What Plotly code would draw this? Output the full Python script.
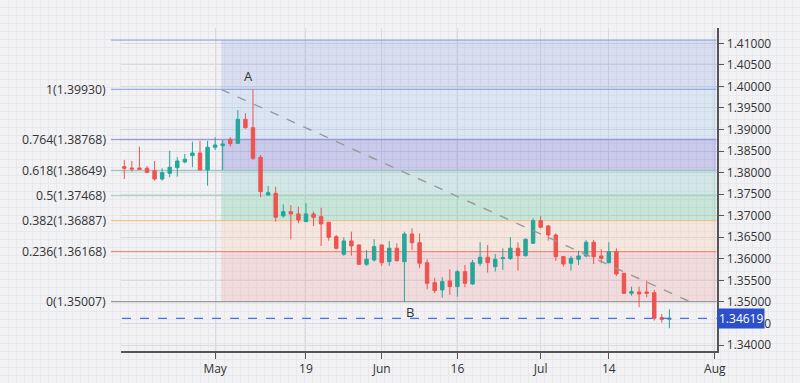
import plotly.graph_objects as go

# ---------------- data ----------------
opens = [1.38138, 1.38107, 1.38107, 1.38100, 1.38045, 1.37852, 1.37984, 1.38114, 1.38247, 1.38393,
         1.38455, 1.38061, 1.38588, 1.38625, 1.38773, 1.38680, 1.39237, 1.39042, 1.38356, 1.37481,
         1.37520, 1.36994, 1.37094, 1.37040, 1.36862, 1.37040, 1.36978, 1.36848, 1.36514, 1.36105,
         1.36414, 1.36321, 1.35873, 1.35973, 1.36321, 1.35934, 1.36244, 1.35934, 1.36576, 1.36374,
         1.35910, 1.35446, 1.35277, 1.35486, 1.35354, 1.35702, 1.35416, 1.35896, 1.36036, 1.35818,
         1.36006, 1.36006, 1.36244, 1.36073, 1.36360, 1.36885, 1.36762, 1.36553, 1.36050, 1.35896,
         1.35989, 1.36066, 1.36384, 1.36066, 1.35910, 1.36166, 1.35664, 1.35200, 1.35231, 1.35231,
         1.35214, 1.34634, 1.34597]
highs = [1.38293, 1.38270, 1.38602, 1.38154, 1.38270, 1.38100, 1.38509, 1.38356, 1.38432, 1.38718,
         1.38734, 1.38734, 1.38820, 1.38757, 1.38820, 1.39453, 1.39376, 1.39930, 1.38409, 1.37690,
         1.37674, 1.37265, 1.37249, 1.37210, 1.37288, 1.37094, 1.37186, 1.36855, 1.36553, 1.36500,
         1.36630, 1.36325, 1.36205, 1.36453, 1.36325, 1.36414, 1.36360, 1.36630, 1.36708, 1.36592,
         1.35989, 1.35562, 1.35572, 1.35757, 1.35741, 1.35857, 1.35973, 1.36384, 1.36321, 1.36112,
         1.36244, 1.36500, 1.36384, 1.36476, 1.36941, 1.36994, 1.36785, 1.36592, 1.36066, 1.36066,
         1.36189, 1.36437, 1.36437, 1.36221, 1.36384, 1.36244, 1.35670, 1.35354, 1.35354, 1.35493,
         1.35277, 1.34720, 1.34829]
lows = [1.37852, 1.38022, 1.38061, 1.37984, 1.37813, 1.37813, 1.37892, 1.37906, 1.38216, 1.38124,
        1.38045, 1.37697, 1.38525, 1.38061, 1.38602, 1.38664, 1.39019, 1.38293, 1.37428, 1.37458,
        1.36862, 1.36954, 1.36453, 1.36824, 1.36855, 1.36762, 1.36298, 1.36421, 1.36221, 1.36073,
        1.36073, 1.35857, 1.35834, 1.35934, 1.35834, 1.35834, 1.35934, 1.35007, 1.36205, 1.35780,
        1.35293, 1.35200, 1.35098, 1.35161, 1.35122, 1.35340, 1.35393, 1.35834, 1.35678, 1.35702,
        1.35741, 1.35973, 1.35725, 1.36050, 1.36344, 1.36708, 1.36421, 1.35950, 1.35818, 1.35725,
        1.35857, 1.36036, 1.35880, 1.35896, 1.35896, 1.35602, 1.35184, 1.35145, 1.34876, 1.35108,
        1.34565, 1.34518, 1.34388]
closes = [1.38100, 1.38084, 1.38077, 1.38008, 1.37852, 1.37998, 1.38124, 1.38270, 1.38309, 1.38455,
          1.38061, 1.38588, 1.38641, 1.38664, 1.38671, 1.39237, 1.39042, 1.38332, 1.37558, 1.37534,
          1.36964, 1.37094, 1.37040, 1.36901, 1.37040, 1.36964, 1.36808, 1.36500, 1.36244, 1.36414,
          1.36298, 1.35873, 1.35989, 1.36282, 1.35910, 1.36244, 1.35957, 1.36576, 1.36374, 1.35896,
          1.35432, 1.35261, 1.35470, 1.35354, 1.35702, 1.35432, 1.35910, 1.36036, 1.35910, 1.35989,
          1.36026, 1.36244, 1.36073, 1.36453, 1.36885, 1.36732, 1.36553, 1.36050, 1.35880, 1.36012,
          1.36066, 1.36384, 1.36050, 1.36012, 1.36166, 1.35648, 1.35200, 1.35238, 1.35184, 1.35200,
          1.34620, 1.34597, 1.34619]

tick_positions = [12, 24, 34, 44, 55, 64, 78]          # bar index of each time label
tick_labels = ["May", "19", "Jun", "16", "Jul", "14", "Aug"]

fib_ratios = ["1", "0.764", "0.618", "0.5", "0.382", "0.236", "0"]
fib_prices = [1.39930, 1.38768, 1.38049, 1.37468, 1.36887, 1.36168, 1.35007]
fib_price_text = ["1.39930", "1.38768", "1.38649", "1.37468", "1.36887", "1.36168", "1.35007"]
fib_top_price = 1.41075

fib_start = (12.8, 1.39930)   # bar index, price
fib_end = (74.7, 1.35007)
point_a = (16.4, 1.39930)
point_b = (37.7, 1.35007)
last_price = 1.34619

# ---------------- styles ----------------
W, H = 800, 383
PL, PR, PT, PB = 120.5, 716.7, 28.0, 351.0   # plot area in px
BG = "#f2f2f5"
UP, DOWN = "#26a69a", "#ef5350"
fib_line_colors = ["#8fb0ea", "#9a9bd8", "#9fc4c2", "#a9d6c0", "#f3c28d", "#f38b7b", "#9b9b9b"]
top_line_color = "#7f9fe3"
zone_colors = [
    "rgba(120,140,220,0.20)",   # above 1
    "rgba(150,190,240,0.25)",   # 1 - 0.764
    "rgba(110,110,210,0.30)",   # 0.764 - 0.618
    "rgba(120,200,190,0.25)",   # 0.618 - 0.5
    "rgba(100,200,150,0.30)",   # 0.5 - 0.382
    "rgba(255,200,160,0.25)",   # 0.382 - 0.236
    "rgba(240,150,150,0.25)",   # 0.236 - 0
]
FONT = "Open Sans"


def px(xp):
    return xp / W


x_idx = list(range(len(opens)))
x_range = [-0.5, 78.25]
# price at pixel rows PB (bottom) and PT (top): 1.41 at y=43.3, 4310 px per unit
y_range = [1.41 - (PB - 43.3) / 4310, 1.41 + (43.3 - PT) / 4310]

fig = go.Figure()

# background fine grid (full page) on axes x / y
fig.add_trace(go.Scatter(x=[None], y=[None], xaxis="x", yaxis="y",
                         showlegend=False, hoverinfo="skip"))

fig.add_trace(go.Candlestick(
    x=x_idx, open=opens, high=highs, low=lows, close=closes,
    xaxis="x2", yaxis="y2",
    increasing=dict(line=dict(color=UP, width=1), fillcolor=UP),
    decreasing=dict(line=dict(color=DOWN, width=1), fillcolor=DOWN),
    whiskerwidth=0, showlegend=False, hoverinfo="skip",
))

shapes = []
annotations = []

# zones
bounds = [fib_top_price] + fib_prices
for i, col in enumerate(zone_colors):
    shapes.append(dict(type="rect", xref="x2", yref="y2",
                       x0=fib_start[0], x1=x_range[1],
                       y0=bounds[i + 1], y1=bounds[i],
                       fillcolor=col, line=dict(width=0), layer="between"))


def level_line(p, color, width):
    # inside the plot area (under the candles)
    shapes.append(dict(type="line", xref="x2", yref="y2",
                       x0=x_range[0], x1=x_range[1], y0=p, y1=p,
                       line=dict(color=color, width=width), layer="between"))
    # short stub that sticks out to the left of the plot area
    shapes.append(dict(type="line", xref="paper", yref="y2",
                       x0=px(111), x1=px(PL + 0.5), y0=p, y1=p,
                       line=dict(color=color, width=width), layer="above"))


level_line(fib_top_price, top_line_color, 1)
for r, p, t, c in zip(fib_ratios, fib_prices, fib_price_text, fib_line_colors):
    level_line(p, c, 1.3)
    annotations.append(dict(xref="paper", yref="y2", x=px(108), y=p,
                            xanchor="right", yanchor="middle", showarrow=False,
                            text=f"{r}({t})",
                            font=dict(family=FONT, size=12.3, color="#333333")))

# trend (dashed) line
shapes.append(dict(type="line", xref="x2", yref="y2",
                   x0=fib_start[0], y0=fib_start[1], x1=fib_end[0], y1=fib_end[1],
                   line=dict(color="#9a9a9a", width=1.4, dash="dash"), layer="above"))

# last price line
shapes.append(dict(type="line", xref="paper", yref="y2",
                   x0=px(122), x1=px(PR), y0=last_price, y1=last_price,
                   line=dict(color="#4f6fe6", width=1.2, dash="dash"), layer="above"))

annotations.append(dict(xref="paper", yref="y2", x=px(PR), y=last_price,
                        xanchor="left", yanchor="middle", showarrow=False,
                        text=f"{last_price:.5f}", bgcolor="#2d4fc9", borderpad=1,
                        font=dict(family=FONT, size=12, color="white")))

annotations.append(dict(xref="x2", yref="y2", x=point_a[0], y=point_a[1],
                        yshift=13, showarrow=False, text="A",
                        font=dict(family=FONT, size=13, color="#333333")))
annotations.append(dict(xref="x2", yref="y2", x=point_b[0], y=point_b[1],
                        yshift=-10, showarrow=False, text="B",
                        font=dict(family=FONT, size=13, color="#333333")))

fig.update_layout(
    template="none",
    width=W, height=H,
    margin=dict(l=0, r=0, t=0, b=0, pad=0),
    paper_bgcolor=BG, plot_bgcolor="rgba(0,0,0,0)",
    showlegend=False,
    boxgap=0.35,
    shapes=shapes, annotations=annotations,
    font=dict(family=FONT, size=12, color="#333333"),
    xaxis=dict(domain=[0, 1], range=[0, W], dtick=8, tick0=0,
               showgrid=True, gridcolor="#e7e8ec", gridwidth=1,
               showticklabels=False, ticks="", zeroline=False, showline=False,
               automargin=False, fixedrange=True),
    yaxis=dict(domain=[0, 1], range=[0, H], dtick=8, tick0=0,
               showgrid=True, gridcolor="#e7e8ec", gridwidth=1,
               showticklabels=False, ticks="", zeroline=False, showline=False,
               automargin=False, fixedrange=True),
    xaxis2=dict(domain=[px(PL), px(PR)], anchor="y2", range=x_range,
                tickmode="array", tickvals=tick_positions, ticktext=tick_labels,
                ticks="outside", ticklen=6, tickcolor="#555555", tickwidth=1.3,
                showline=True, linecolor="#555555", linewidth=1.5,
                showgrid=True, gridcolor="#d9d9de", gridwidth=1,
                zeroline=False, automargin=False,
                tickfont=dict(family=FONT, size=12, color="#333333"),
                rangeslider=dict(visible=False)),
    yaxis2=dict(domain=[(H - PB) / H, (H - PT) / H], anchor="x2", side="right",
                range=y_range, tickmode="linear", tick0=1.34, dtick=0.005,
                tickformat=".5f",
                ticks="outside", ticklen=6, tickcolor="#555555", tickwidth=1.3,
                showline=True, linecolor="#555555", linewidth=1.5,
                showgrid=True, gridcolor="#d9d9de", gridwidth=1,
                zeroline=False, automargin=False,
                tickfont=dict(family=FONT, size=12, color="#333333")),
)

fig.write_html("out.html",
               config={"displayModeBar": False},
               post_script="document.body.style.margin='0px';"
                           "document.body.style.overflow='hidden';")
